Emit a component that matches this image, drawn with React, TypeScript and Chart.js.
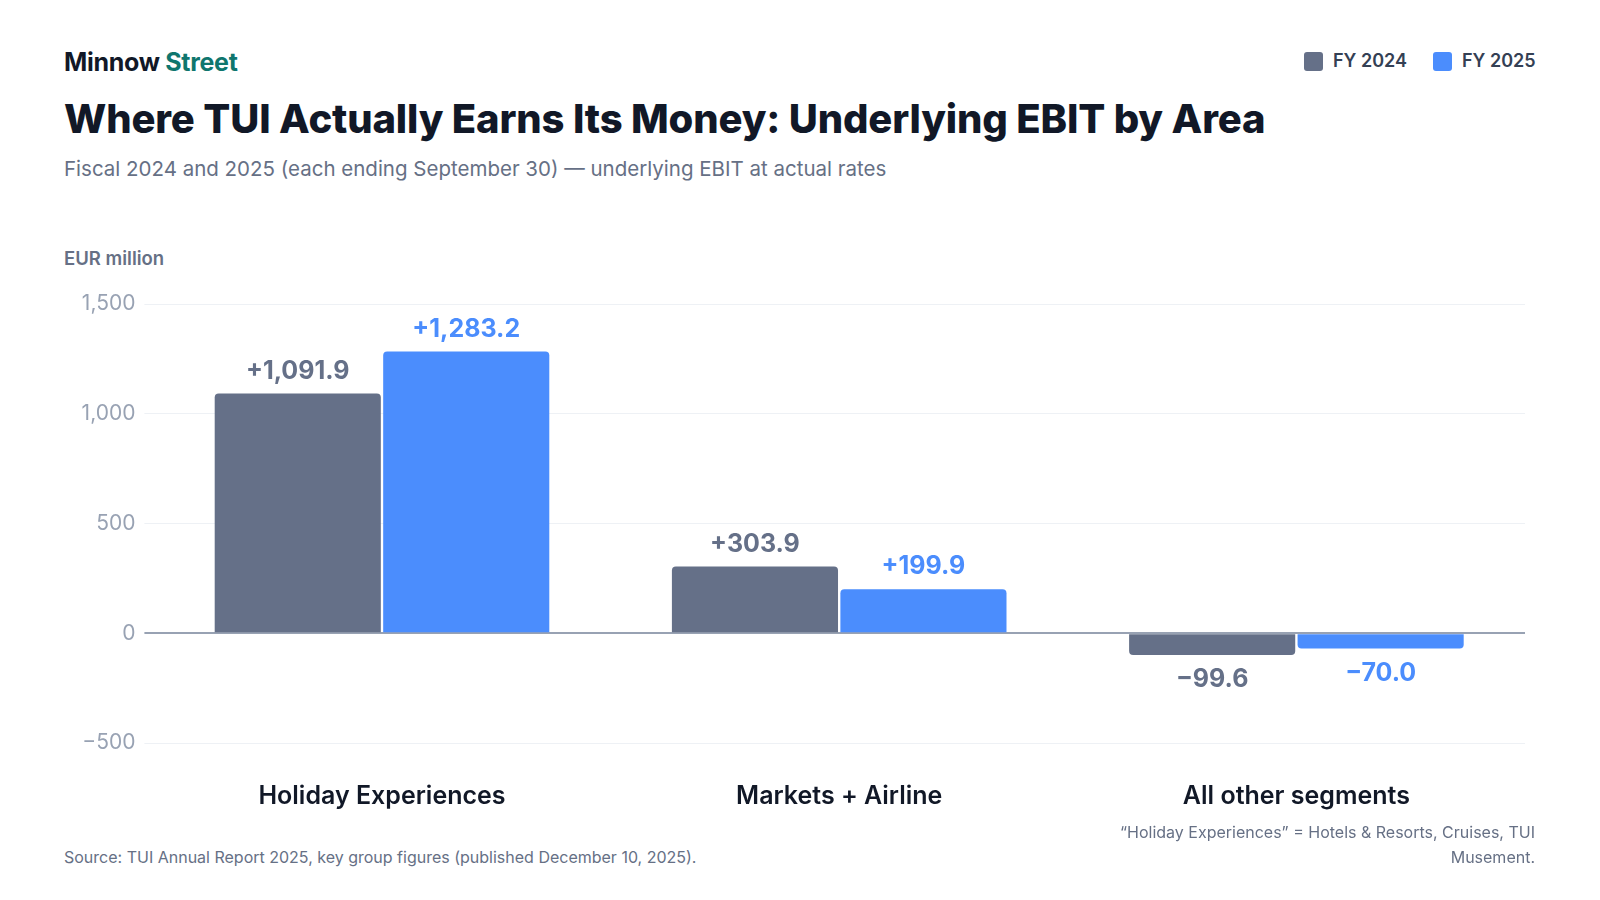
import { Chart, registerables } from 'chart.js';
import { useEffect, useRef } from 'react';

Chart.register(...registerables);

const categories = ['Holiday Experiences', 'Markets + Airline', 'All other segments'];
const fy2024 = [1091.9, 303.9, -99.6];
const fy2025 = [1283.2, 199.9, -70.0];
const seriesNames = ['FY 2024', 'FY 2025'];
const seriesColors = ['#657088', '#4b8dfd'];

const fontFamily = 'Inter, "Noto Sans", sans-serif';

const fmtTick = (v: number) =>
  v < 0 ? '\u2212' + Math.abs(v).toLocaleString('en-US') : v.toLocaleString('en-US');

const fmtLabel = (v: number) => {
  const s = Math.abs(v).toLocaleString('en-US', {
    minimumFractionDigits: 1,
    maximumFractionDigits: 1,
  });
  return (v < 0 ? '\u2212' : '+') + s;
};

// value labels above (positive) or below (negative) each bar
const valueLabels = {
  id: 'valueLabels',
  afterDatasetsDraw(chart: Chart) {
    const { ctx } = chart;
    ctx.save();
    ctx.font = `700 25px ${fontFamily}`;
    ctx.textAlign = 'center';
    ctx.textBaseline = 'alphabetic';
    chart.data.datasets.forEach((ds, di) => {
      const meta = chart.getDatasetMeta(di);
      ctx.fillStyle = ds.backgroundColor as string;
      meta.data.forEach((bar: any, i) => {
        const v = ds.data[i] as number;
        if (v >= 0) {
          ctx.fillText(fmtLabel(v), bar.x, bar.y - 15);
        } else {
          ctx.fillText(fmtLabel(v), bar.x, bar.y + 32);
        }
      });
    });
    ctx.restore();
  },
};

function EbitChart() {
  const canvasRef = useRef<HTMLCanvasElement>(null);
  const chartRef = useRef<Chart | null>(null);

  useEffect(() => {
    const canvas = canvasRef.current;
    if (!canvas) {
      return undefined;
    }
    chartRef.current?.destroy();

    chartRef.current = new Chart(canvas, {
      type: 'bar',
      data: {
        labels: categories,
        datasets: [fy2024, fy2025].map((data, i) => ({
          label: seriesNames[i],
          data,
          backgroundColor: seriesColors[i],
          borderRadius: 4,
          categoryPercentage: 0.737,
          barPercentage: 0.986,
        })),
      },
      options: {
        animation: false,
        responsive: true,
        maintainAspectRatio: false,
        layout: { padding: { top: 23, right: 10, bottom: 9.4, left: 0 } },
        plugins: {
          legend: { display: false },
          tooltip: { enabled: false },
        },
        scales: {
          x: {
            afterFit(scale: any) {
              scale.height = 68.6;
            },
            grid: { display: false, drawTicks: false },
            border: { display: false },
            ticks: {
              color: '#111827',
              padding: 38.6,
              font: { family: fontFamily, size: 25, weight: 600 },
            },
          },
          y: {
            min: -500,
            max: 1500,
            afterFit(scale: any) {
              scale.width = 89.4;
            },
            border: { display: false },
            grid: {
              tickLength: 9,
              color: (c: any) => (c.tick && c.tick.value === 0 ? '#98a2b3' : '#eef1f5'),
              lineWidth: (c: any) => (c.tick && c.tick.value === 0 ? 2 : 1),
            },
            ticks: {
              stepSize: 500,
              padding: 9,
              color: '#98a2b3',
              font: { family: fontFamily, size: 21 },
              callback: (v: any) => fmtTick(Number(v)),
            },
          },
        },
      },
      plugins: [valueLabels],
    });

    return () => {
      chartRef.current?.destroy();
      chartRef.current = null;
    };
  }, []);

  return <canvas ref={canvasRef} role="img" aria-label="Underlying EBIT by area chart" />;
}

export default function App() {
  const abs = (left: number, top: number) => ({
    position: 'absolute' as const,
    left: left - 8,
    top: top - 8,
  });

  return (
    <div
      style={{
        position: 'relative',
        width: 1584,
        height: 884,
        fontFamily,
        background: '#ffffff',
      }}
    >
      <div style={{ ...abs(64, 48), fontSize: 25, lineHeight: '28px', fontWeight: 700, color: '#111827', letterSpacing: -0.3 }}>
        Minnow <span style={{ color: '#0f766e' }}>Street</span>
      </div>

      <div style={{ ...abs(1304, 49), display: 'flex', alignItems: 'center', gap: 26, fontSize: 18, lineHeight: '24px', fontWeight: 600, color: '#344054' }}>
        {seriesNames.map((name, i) => (
          <div key={name} style={{ display: 'flex', alignItems: 'center', gap: 10 }}>
            <span style={{ width: 19, height: 19, borderRadius: 3, background: seriesColors[i], display: 'inline-block' }} />
            {name}
          </div>
        ))}
      </div>

      <div style={{ ...abs(64, 95), fontSize: 40, lineHeight: '48px', fontWeight: 800, color: '#111827', letterSpacing: -0.15, whiteSpace: 'nowrap' }}>
        Where TUI Actually Earns Its Money: Underlying EBIT by Area
      </div>

      <div style={{ ...abs(64, 157), fontSize: 20.5, lineHeight: '24px', color: '#667085', whiteSpace: 'nowrap' }}>
        Fiscal 2024 and 2025 (each ending September 30) — underlying EBIT at actual rates
      </div>

      <div style={{ ...abs(64, 246.5), fontSize: 18.5, lineHeight: '22px', fontWeight: 600, color: '#667085' }}>
        EUR million
      </div>

      <div style={{ ...abs(64, 281), width: 1471, height: 540 }}>
        <EbitChart />
      </div>

      <div style={{ ...abs(64, 846), fontSize: 16, lineHeight: '23px', color: '#667085', whiteSpace: 'nowrap' }}>
        Source: TUI Annual Report 2025, key group figures (published December 10, 2025).
      </div>

      <div style={{ ...abs(1095, 820), width: 440, fontSize: 16, lineHeight: '24.5px', color: '#667085', textAlign: 'right' }}>
        “Holiday Experiences” = Hotels &amp; Resorts, Cruises, TUI Musement.
      </div>
    </div>
  );
}
